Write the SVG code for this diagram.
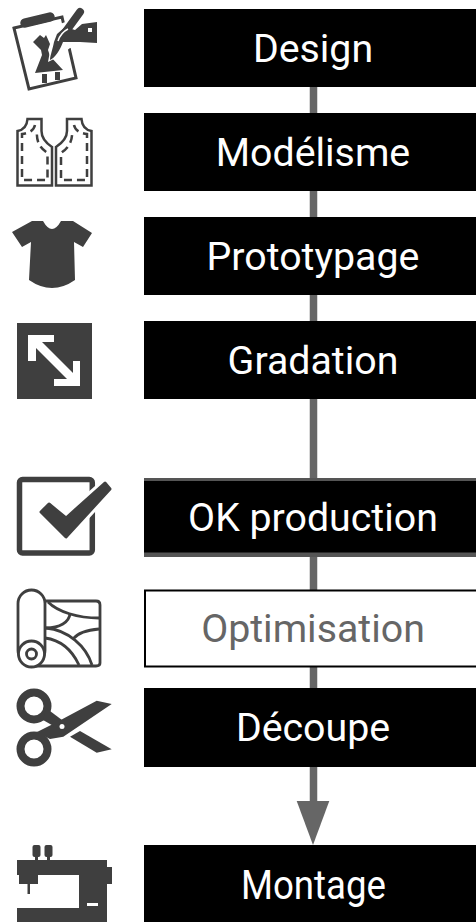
<svg xmlns="http://www.w3.org/2000/svg" width="476" height="922" viewBox="0 0 476 922">
<style>
.box{fill:#000}
.lbl{font-family:Roboto,"Liberation Sans",sans-serif;font-size:39.3px;fill:#fff;text-anchor:middle}
.ic{fill:#3f3f3f}
.ol{fill:none;stroke:#3f3f3f}
</style>
<rect width="476" height="922" fill="#fff"/>
<g id="connectors">
<line x1="313.500" y1="87" x2="313.500" y2="805" stroke="#666" stroke-width="7.500"/>
<polygon points="296.700,801 329.300,801 313,845" fill="#666"/>
</g>
<g id="design">
<rect class="box" x="144" y="9" width="332" height="78"/>
<text class="lbl" x="313" y="62">Design</text>
<polygon class="ol" stroke-width="3" points="14,28 62,17 76,78 29,89"/>
<path class="ol" stroke-width="9.500" stroke-linecap="round" d="M25,23 L50,17"/>
<path class="ic" d="M33,42 L38,37 L40,35 L44,38 L46,35 L50,44 L48,50 L50,56 L63,70 L35,73 L42,55 L41,50Z"/>
<rect class="ic" x="42" y="74" width="5" height="9"/>
<rect class="ic" x="55" y="72" width="5" height="8"/>
<path fill="#fff" d="M48,62 L52,40 L60,24 L76,18 L99,19 L99,46 L70,48 L60,56Z"/>
<path class="ol" stroke-width="8" stroke-linecap="round" d="M80,12 L64,34"/>
<path class="ic" d="M97,22 L82,24 L75,30 L65,27 L57,34 L54,42 C53,48 50,56 50,60 C55,58 60,50 63,42 L80,42 L97,43Z"/>
<path fill="none" stroke="#fff" stroke-width="1.500" d="M58,41 C60,35 64,31 68,29"/>
<rect x="88" y="28" width="4" height="4" fill="#fff"/>
</g>
<g id="modelisme">
<rect class="box" x="144" y="113" width="332" height="78"/>
<text class="lbl" x="313" y="166">Modélisme</text>
<path class="ol" stroke-width="2.500" d="M27.500,119 L41.500,119 L41.500,131 C41.500,138 46,143 52,147 L52,185.500 L17.500,185.500 L17.500,131 C23,130 27,126 27.500,119Z"/>
<path class="ol" stroke-width="2.500" d="M81.500,119 L67,119 L67,131 C67,138 62,143 56,147 L56,185.500 L91.500,185.500 L91.500,131 C86,130 82,126 81.500,119Z"/>
<path class="ol" stroke-width="2.500" stroke-dasharray="8 5" d="M35,125 C34,130 30,133 22,134 L22,180 L47.500,180 L47.500,153 C40,148 36,142 37,130"/>
<path class="ol" stroke-width="2.500" stroke-dasharray="8 5" d="M74,125 C75,130 79,133 87,134 L87,180 L61,180 L61,153 C68,148 73,142 72,130"/>
</g>
<g id="prototypage">
<rect class="box" x="144" y="217" width="332" height="78"/>
<text class="lbl" x="313" y="270">Prototypage</text>
<path class="ic" d="M12,232 L32,221 L43,221 Q52,237 61,221 L73,221 L92,233 L83,247 L74,242 L75,280 Q52,296 29,280 L31,242 L22,247Z"/>
</g>
<g id="gradation">
<rect class="box" x="144" y="321" width="332" height="78"/>
<text class="lbl" x="313" y="374">Gradation</text>
<rect class="ic" x="17" y="323" width="75" height="76"/>
<polygon fill="#fff" points="28,335 54,335 54,342 42,342 73,373 73,361 80,361 80,386 54,386 54,379 67,379 36,348 36,361 28,361"/>
</g>
<g id="ok-production">
<rect x="144" y="478" width="332" height="79" fill="#555"/>
<rect class="box" x="144" y="481" width="332" height="71.500"/>
<text class="lbl" x="313" y="531">OK production</text>
<rect class="ol" stroke-width="5.500" x="19.500" y="479.500" width="72.800" height="73.500" rx="3"/>
<polygon fill="#fff" stroke="#fff" stroke-width="9" stroke-linejoin="round" points="41,512 49,504 66,518 105,483 110,489 66,537"/>
<polygon class="ic" stroke="#3f3f3f" stroke-width="3" stroke-linejoin="round" points="41,512 49,504 66,518 105,483 110,489 66,537"/>
</g>
<g id="optimisation">
<rect x="145" y="590.500" width="332" height="76" fill="#fff" stroke="#000" stroke-width="2"/>
<text class="lbl" x="313" y="642" style="fill:#666">Optimisation</text>
<g class="ol" stroke-width="2.800">
<path d="M45,601 L96,601 Q100,601 100,605 L100,663 Q100,666 96,666 L28,666"/>
<path d="M48,602 C58,612 78,618 99,618"/>
<path d="M70,614 C69,622 60,628 46,628"/>
<path d="M99,629 C86,630 77,634 73,639"/>
<path d="M46,628 C68,630 86,646 92,665"/>
<path d="M45,638 C60,640 72,650 79,665"/>
<rect x="18" y="590" width="27" height="74" rx="13.500" fill="#fff"/>
<circle cx="31.500" cy="654" r="13" fill="#fff"/>
<circle cx="31.500" cy="654" r="5"/>
</g>
</g>
<g id="decoupe">
<rect class="box" x="144" y="688" width="332" height="79"/>
<text class="lbl" x="313" y="741">Découpe</text>
<circle class="ol" stroke-width="8" cx="34" cy="706" r="13.500"/>
<circle class="ol" stroke-width="8" cx="34" cy="749" r="13.500"/>
<path class="ic" d="M37,732 L57,722 L96.700,700.700 L111.700,704 L63.300,736.700 L50,739 L42,735Z"/>
<path class="ic" d="M46,708 L62,720 L57,728 L43,720Z"/>
<polygon class="ic" points="80,731 111.700,749.300 96.700,752.700 70,736.700"/>
<circle cx="62" cy="726.500" r="2.500" fill="#fff"/>
</g>
<g id="montage">
<rect class="box" x="144" y="845" width="332" height="77"/>
<text class="lbl" x="313.500" y="899" style="font-size:41px" textLength="145" lengthAdjust="spacingAndGlyphs">Montage</text>
<path class="ic" d="M17,860 L107,860 L107,867 L112,867 L112,884 L107,884 L107,922 L17,922 L17,908 L79,908 L79,875 L38,875 L38,884 L19,884 L19,875 L17,875Z"/>
<rect class="ic" x="27.500" y="884" width="2.500" height="10"/>
<rect class="ic" x="32.500" y="845" width="8" height="12" rx="2"/>
<rect class="ic" x="44.500" y="845" width="8" height="12" rx="2"/>
<rect class="ic" x="35" y="856" width="3" height="5"/>
<rect class="ic" x="47" y="856" width="3" height="5"/>
<rect x="87" y="903" width="11" height="3" fill="#fff"/>
</g>
</svg>
